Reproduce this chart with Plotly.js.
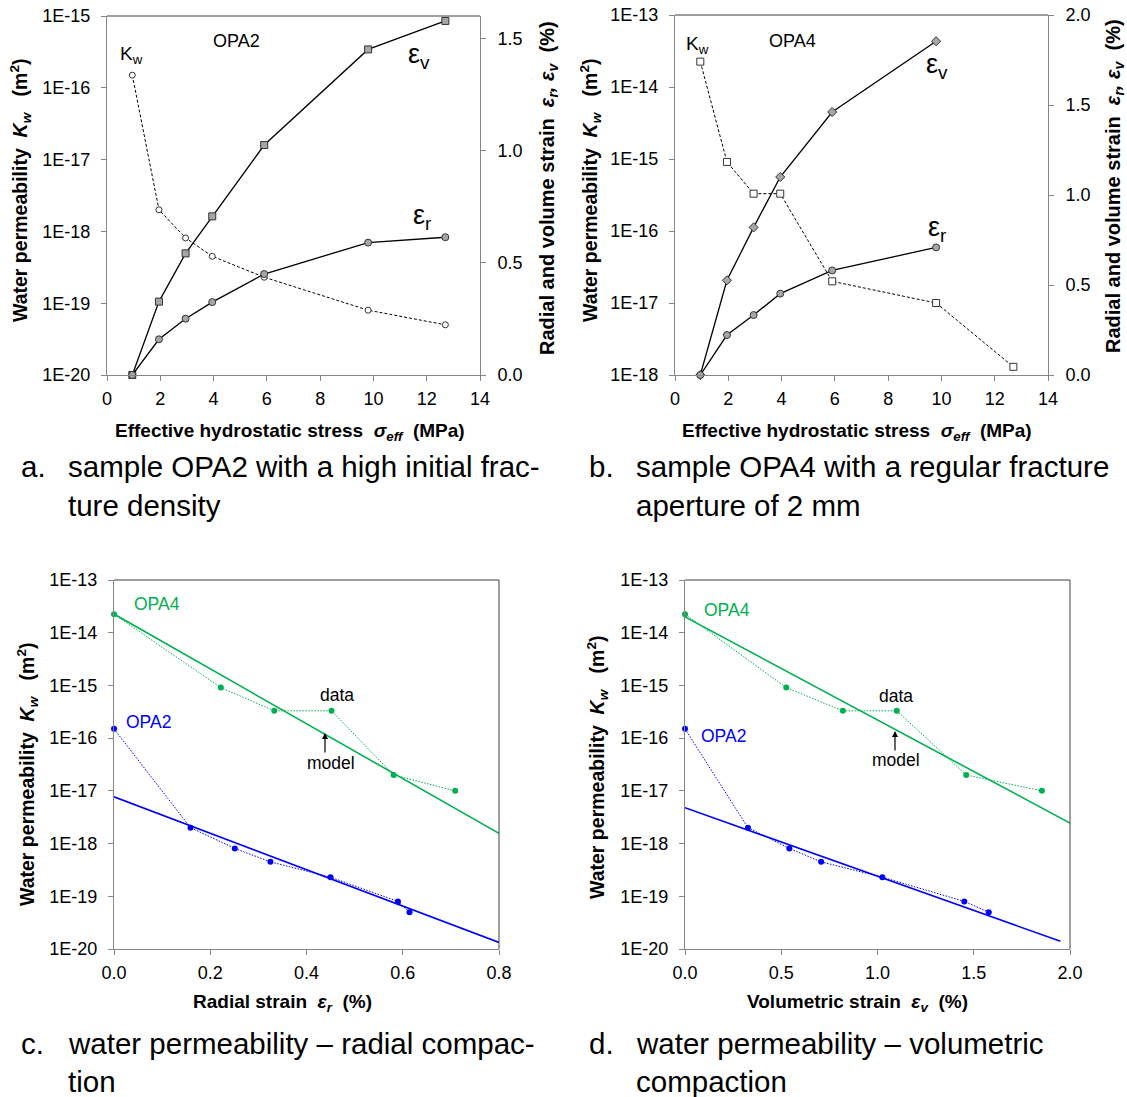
<!DOCTYPE html>
<html>
<head>
<meta charset="utf-8">
<script src="https://cdn.plot.ly/plotly-3.0.1.min.js"></script>
<style>html,body{margin:0;padding:0;background:#fff;}#chart{width:1127px;height:1097px;}</style>
</head>
<body>
<div id="chart"></div>
<script>
// ---------------- data ----------------
const stress = [0.95, 1.95, 2.95, 3.95, 5.9, 9.8, 12.7];          // MPa
// sample OPA2
const kwOPA2 = [1.5e-16, 2.0e-18, 8.1e-19, 4.5e-19, 2.3e-19, 8.0e-20, 5.0e-20];
const evOPA2 = [0, 0.327, 0.542, 0.707, 1.025, 1.451, 1.578];
const erOPA2 = [0, 0.159, 0.251, 0.325, 0.450, 0.590, 0.614];
// sample OPA4
const kwOPA4 = [2.25e-14, 9.1e-16, 3.3e-16, 3.3e-16, 2.0e-17, 1.0e-17, 1.3e-18];
const evOPA4 = [0, 0.526, 0.820, 1.100, 1.461, 1.854];
const erOPA4 = [0, 0.222, 0.333, 0.452, 0.581, 0.709];
// model lines (end points)
const modelRadOPA4x = [0, 0.8], modelRadOPA4y = [2.26e-14, 1.56e-18];
const modelRadOPA2x = [0, 0.8], modelRadOPA2y = [7.7e-18, 1.33e-20];
const modelVolOPA4x = [0, 2.0], modelVolOPA4y = [2.0e-14, 2.45e-18];
const modelVolOPA2x = [0, 1.95], modelVolOPA2y = [4.8e-18, 1.4e-20];
// tick labels
const ticksA = ['1E-20','1E-19','1E-18','1E-17','1E-16','1E-15'];
const ticksB = ['1E-18','1E-17','1E-16','1E-15','1E-14','1E-13'];
const ticksCD = ['1E-20','1E-19','1E-18','1E-17','1E-16','1E-15','1E-14','1E-13'];

// ---------------- helpers ----------------
const W = 1127, H = 1097;
const px = v => v / W, py = v => 1 - v / H;
const GREEN = '#00b050', BLUE = '#0000ff';
const AXC = '#868686';
const FONT = 'Liberation Sans, Arial, sans-serif';
const TICK = 18, TITLE = 19, YTITLE = 19.5, RTITLE = 20;
const KWDASH = '3px,2px', DOTS = '1.5px,1.5px';

function xax(d0, d1, range, dtick, fmt, anchor) {
  return {domain:[px(d0), px(d1)], range:range, dtick:dtick, tick0:0, tickformat:fmt,
    showgrid:false, zeroline:false, showline:true, linecolor:AXC, linewidth:1,
    ticks:'outside', ticklen:5, tickcolor:AXC, anchor:anchor, ticklabelstandoff:2,
    tickfont:{size:TICK, family:FONT, color:'#000'}, fixedrange:true};
}
function ylog(t0, t1, labels, anchor) {
  const lg = labels.map(s => Math.log10(Number(s)));
  return {domain:[py(t1), py(t0)], type:'log', range:[Math.min(...lg), Math.max(...lg)],
    tickvals:labels.map(Number), ticktext:labels, showgrid:false, zeroline:false,
    showline:true, linecolor:AXC, linewidth:1, ticks:'outside', ticklen:5, tickcolor:AXC,
    ticklabelstandoff:7,
    anchor:anchor, tickfont:{size:TICK, family:FONT, color:'#000'}, fixedrange:true};
}
function yright(range, overlay, anchor) {
  return {overlaying:overlay, side:'right', anchor:anchor, range:range, dtick:0.5, tick0:0,
    tickformat:'.1f', showgrid:false, zeroline:false, showline:true, linecolor:AXC, linewidth:1,
    ticks:'outside', ticklen:5, tickcolor:AXC, ticklabelstandoff:8,
    tickfont:{size:TICK, family:FONT, color:'#000'}, fixedrange:true};
}

const traces = [];
// panel a
traces.push({x:stress, y:kwOPA2, xaxis:'x', yaxis:'y', mode:'lines+markers',
  line:{color:'#000', width:1, dash:KWDASH}, marker:{symbol:'circle', size:6, color:'#fff', line:{color:'#333', width:1}}});
traces.push({x:stress, y:evOPA2, xaxis:'x', yaxis:'y2', mode:'lines+markers',
  line:{color:'#000', width:1.3}, marker:{symbol:'square', size:7, color:'#a6a6a6', line:{color:'#333', width:1}}});
traces.push({x:stress, y:erOPA2, xaxis:'x', yaxis:'y2', mode:'lines+markers',
  line:{color:'#000', width:1.3}, marker:{symbol:'circle', size:7, color:'#a6a6a6', line:{color:'#333', width:1}}});
// panel b
traces.push({x:stress, y:kwOPA4, xaxis:'x2', yaxis:'y3', mode:'lines+markers',
  line:{color:'#000', width:1, dash:KWDASH}, marker:{symbol:'square', size:7, color:'#fff', line:{color:'#333', width:1}}});
traces.push({x:stress.slice(0, evOPA4.length), y:evOPA4, xaxis:'x2', yaxis:'y4', mode:'lines+markers',
  line:{color:'#000', width:1.3}, marker:{symbol:'diamond', size:7, color:'#a6a6a6', line:{color:'#333', width:1}}});
traces.push({x:stress.slice(0, erOPA4.length), y:erOPA4, xaxis:'x2', yaxis:'y4', mode:'lines+markers',
  line:{color:'#000', width:1.3}, marker:{symbol:'circle', size:7, color:'#a6a6a6', line:{color:'#333', width:1}}});
// panel c
traces.push({x:erOPA4, y:kwOPA4.slice(0, erOPA4.length), xaxis:'x3', yaxis:'y5', mode:'lines+markers',
  line:{color:GREEN, width:1, dash:DOTS}, marker:{symbol:'circle', size:6, color:GREEN}});
traces.push({x:erOPA2, y:kwOPA2, xaxis:'x3', yaxis:'y5', mode:'lines+markers',
  line:{color:BLUE, width:1, dash:DOTS}, marker:{symbol:'circle', size:6, color:BLUE}});
traces.push({x:modelRadOPA4x, y:modelRadOPA4y, xaxis:'x3', yaxis:'y5', mode:'lines', line:{color:GREEN, width:1.6}});
traces.push({x:modelRadOPA2x, y:modelRadOPA2y, xaxis:'x3', yaxis:'y5', mode:'lines', line:{color:BLUE, width:1.6}});
// panel d
traces.push({x:evOPA4, y:kwOPA4.slice(0, evOPA4.length), xaxis:'x4', yaxis:'y6', mode:'lines+markers',
  line:{color:GREEN, width:1, dash:DOTS}, marker:{symbol:'circle', size:6, color:GREEN}});
traces.push({x:evOPA2, y:kwOPA2, xaxis:'x4', yaxis:'y6', mode:'lines+markers',
  line:{color:BLUE, width:1, dash:DOTS}, marker:{symbol:'circle', size:6, color:BLUE}});
traces.push({x:modelVolOPA4x, y:modelVolOPA4y, xaxis:'x4', yaxis:'y6', mode:'lines', line:{color:GREEN, width:1.6}});
traces.push({x:modelVolOPA2x, y:modelVolOPA2y, xaxis:'x4', yaxis:'y6', mode:'lines', line:{color:BLUE, width:1.6}});
traces.forEach(t => { t.hoverinfo = 'skip'; t.cliponaxis = false; });

const S = '\u00a0';
const ann = [];
function txt(x, y, text, size, opts) {
  ann.push(Object.assign({xref:'paper', yref:'paper', x:px(x), y:py(y), text:text, showarrow:false,
    xanchor:'center', yanchor:'middle', font:{family:FONT, size:size, color:'#000'}}, opts || {}));
}
const yTitle = '<b>Water permeability' + S + S + '<i>K<sub>w</sub></i>' + S + S + S + '(m<sup>2</sup>)</b>';
const rTitle = '<b>Radial and volume strain' + S + S + '<i>ε<sub>r</sub>,' + S + 'ε<sub>v</sub></i>' + S + S + '(%)</b>';
const xTitle = '<b>Effective hydrostatic stress' + S + S + '<i>σ<sub>eff</sub></i>' + S + S + '(MPa)</b>';
// axis titles
txt(20, 190, yTitle, YTITLE, {textangle:-90});
txt(548, 188, rTitle, RTITLE, {textangle:-90});
txt(290, 432, xTitle, TITLE);
txt(590, 190, yTitle, YTITLE, {textangle:-90});
txt(1115, 186, rTitle, RTITLE, {textangle:-90});
txt(857, 432, xTitle, TITLE);
txt(27, 774, yTitle, YTITLE, {textangle:-90});
txt(282, 1003, '<b>Radial strain' + S + S + '<i>ε<sub>r</sub></i>' + S + S + '(%)</b>', TITLE);
txt(597, 767, yTitle, YTITLE, {textangle:-90});
txt(857, 1003, '<b>Volumetric strain' + S + S + '<i>ε<sub>v</sub></i>' + S + S + '(%)</b>', TITLE);
// panel labels a/b
txt(131, 55, 'K<sub>w</sub>', 19);
txt(236, 41, 'OPA2', 18);
txt(419, 56, 'ε<sub>v</sub>', 27);
txt(422, 217, 'ε<sub>r</sub>', 27);
txt(697, 45, 'K<sub>w</sub>', 19);
txt(792, 41, 'OPA4', 18);
txt(937, 66, 'ε<sub>v</sub>', 27);
txt(937, 229, 'ε<sub>r</sub>', 27);
// panel labels c/d
txt(157, 604, 'OPA4', 17.5, {font:{family:FONT, size:17.5, color:GREEN}});
txt(148, 722, 'OPA2', 17.5, {font:{family:FONT, size:17.5, color:BLUE}});
txt(337, 695, 'data', 17.5);
txt(331, 763, 'model', 17.5);
txt(727, 610, 'OPA4', 17.5, {font:{family:FONT, size:17.5, color:GREEN}});
txt(723, 736, 'OPA2', 17.5, {font:{family:FONT, size:17.5, color:BLUE}});
txt(896, 696, 'data', 17.5);
txt(896, 760, 'model', 17.5);
// arrows
[[325, 733], [895, 731]].forEach(p => ann.push({xref:'paper', yref:'paper', x:px(p[0]), y:py(p[1]),
  ax:0, ay:21, text:'', showarrow:true, arrowhead:2, arrowsize:1, arrowwidth:1.2, arrowcolor:'#000'}));
// captions
const CAP = 29.5;
function cap(xl, xt, y1, lab, l1, l2) {
  txt(xl, y1, lab, CAP, {xanchor:'left'});
  txt(xt, y1, l1, CAP, {xanchor:'left'});
  txt(xt, y1 + 38, l2, CAP, {xanchor:'left'});
}
cap(19, 66, 467, 'a.', 'sample OPA2 with a high initial frac-', 'ture density');
cap(587, 634, 467, 'b.', 'sample OPA4 with a regular fracture', 'aperture of 2 mm');
cap(19, 66, 1043, 'c.', 'water permeability – radial compac-', 'tion');
cap(587, 634, 1043, 'd.', 'water permeability – volumetric', 'compaction');

// plot-area borders (top / right)
const DARK = '#404040';
const shapes = [
  {type:'line', xref:'paper', yref:'paper', x0:px(107), x1:px(480), y0:py(16), y1:py(16), line:{color:DARK, width:1}},
  {type:'line', xref:'paper', yref:'paper', x0:px(675), x1:px(1048), y0:py(15), y1:py(15), line:{color:DARK, width:1}},
  {type:'line', xref:'paper', yref:'paper', x0:px(114), x1:px(499), y0:py(580), y1:py(580), line:{color:DARK, width:1}},
  {type:'line', xref:'paper', yref:'paper', x0:px(499), x1:px(499), y0:py(580), y1:py(949), line:{color:DARK, width:1}},
  {type:'line', xref:'paper', yref:'paper', x0:px(685), x1:px(1070), y0:py(580), y1:py(580), line:{color:DARK, width:1}},
  {type:'line', xref:'paper', yref:'paper', x0:px(1070), x1:px(1070), y0:py(580), y1:py(949), line:{color:DARK, width:1}}
];

const layout = {
  width:W, height:H, margin:{l:0, r:0, t:0, b:0}, showlegend:false,
  paper_bgcolor:'#fff', plot_bgcolor:'rgba(0,0,0,0)',
  font:{family:FONT, size:16, color:'#000'},
  xaxis: xax(107, 480, [0, 14], 2, 'd', 'y'),
  yaxis: ylog(16, 375, ticksA, 'x'),
  yaxis2: yright([0, 1.6], 'y', 'x'),
  xaxis2: xax(675, 1048, [0, 14], 2, 'd', 'y3'),
  yaxis3: ylog(15, 375, ticksB, 'x2'),
  yaxis4: yright([0, 2.0], 'y3', 'x2'),
  xaxis3: xax(114, 499, [0, 0.8], 0.2, '.1f', 'y5'),
  yaxis5: ylog(580, 949, ticksCD, 'x3'),
  xaxis4: xax(685, 1070, [0, 2.0], 0.5, '.1f', 'y6'),
  yaxis6: ylog(580, 949, ticksCD, 'x4'),
  annotations: ann, shapes: shapes
};
Plotly.newPlot('chart', traces, layout, {staticPlot:true, displayModeBar:false});
</script>
</body>
</html>
